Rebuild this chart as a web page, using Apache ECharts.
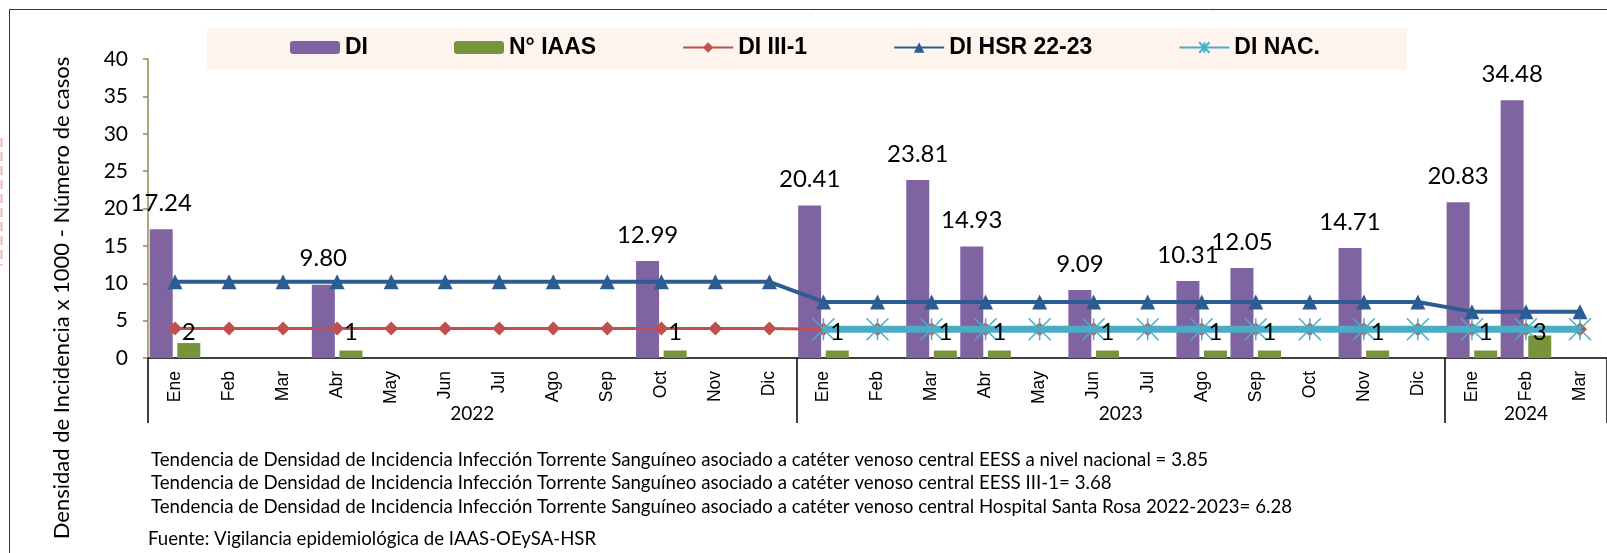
<!DOCTYPE html>
<html>
<head>
<meta charset="utf-8">
<title>Densidad de Incidencia ITS CVC</title>
<style>
  html, body { margin: 0; padding: 0; background: #fff; }
  #chart { width: 1607px; height: 553px; }
</style>
</head>
<body>
<!-- contenedor del grafico -->
<div id="chart"></div>
<script src="https://cdn.jsdelivr.net/npm/echarts@6/dist/echarts.min.js"></script>
<script type="text/javascript">
    // meses (eje x) y años
    var months = ['Ene', 'Feb', 'Mar', 'Abr', 'May', 'Jun', 'Jul', 'Ago', 'Sep', 'Oct', 'Nov', 'Dic',
                  'Ene', 'Feb', 'Mar', 'Abr', 'May', 'Jun', 'Jul', 'Ago', 'Sep', 'Oct', 'Nov', 'Dic',
                  'Ene', 'Feb', 'Mar'];
    var years = ['2022', '2023', '2024'];
    var monthsPerYear = [12, 12, 3];

    // densidad de incidencia (barras moradas)
    var di = [17.24, null, null, 9.80, null, null, null, null, null, 12.99, null, null,
              20.41, null, 23.81, 14.93, null, 9.09, null, 10.31, 12.05, null, 14.71, null,
              20.83, 34.48, null];
    // numero de IAAS (barras verdes)
    var iaas = [2, null, null, 1, null, null, null, null, null, 1, null, null,
                1, null, 1, 1, null, 1, null, 1, 1, null, 1, null,
                1, 3, null];
    // DI III-1 (linea roja)
    var diIII = [3.95, 3.95, 3.95, 3.95, 3.95, 3.95, 3.95, 3.95, 3.95, 3.95, 3.95, 3.95,
                 3.85, 3.85, 3.85, 3.85, 3.85, 3.85, 3.85, 3.85, 3.85, 3.85, 3.85, 3.85,
                 3.85, 3.85, 3.85];
    // DI HSR 22-23 (linea azul)
    var diHsr = [10.2, 10.2, 10.2, 10.2, 10.2, 10.2, 10.2, 10.2, 10.2, 10.2, 10.2, 10.2,
                 7.5, 7.5, 7.5, 7.5, 7.5, 7.5, 7.5, 7.5, 7.5, 7.5, 7.5, 7.5,
                 6.2, 6.2, 6.2];
    // DI nacional (linea celeste)
    var diNac = [null, null, null, null, null, null, null, null, null, null, null, null,
                 3.85, 3.85, 3.85, 3.85, 3.85, 3.85, 3.85, 3.85, 3.85, 3.85, 3.85, 3.85,
                 3.85, 3.85, 3.85];

    var notas = [
        'Tendencia de Densidad de Incidencia Infección Torrente Sanguíneo asociado a catéter venoso central EESS a nivel nacional = 3.85',
        'Tendencia de Densidad de Incidencia Infección Torrente Sanguíneo asociado a catéter venoso central EESS III-1= 3.68',
        'Tendencia de Densidad de Incidencia Infección Torrente Sanguíneo asociado a catéter venoso central Hospital Santa Rosa 2022-2023= 6.28'
    ];
    var fuente = 'Fuente: Vigilancia epidemiológica de IAAS-OEySA-HSR';

    // limites y centros de cada año sobre el eje de valores 0..27
    var yearBounds = [0], yearCenters = [], acc = 0;
    for (var i = 0; i < monthsPerYear.length; i++) {
        yearCenters.push(acc + monthsPerYear[i] / 2);
        acc += monthsPerYear[i];
        yearBounds.push(acc);
    }

    var calibri = 'Lato, "Open Sans", sans-serif';
    var arial = '"Liberation Sans", Arial, sans-serif';

    var chart = echarts.init(document.getElementById('chart'));

    var option = {
        animation: false,
        backgroundColor: '#fff',
        textStyle: { fontFamily: calibri },
        legend: {
            left: 290,
            top: 36,
            padding: 0,
            itemGap: 86,
            itemWidth: 50,
            itemHeight: 13,
            textStyle: { fontFamily: arial, fontWeight: 'bold', fontSize: 23, color: '#000' },
            data: ['DI', 'N° IAAS', 'DI III-1', 'DI HSR 22-23', 'DI NAC.']
        },
        grid: { left: 148, right: -12, top: 59, bottom: 195, containLabel: false },
        xAxis: [{
            type: 'category',
            data: months,
            axisLine: { lineStyle: { color: '#000', width: 1.5 } },
            axisTick: { show: false },
            axisLabel: { rotate: 90, interval: 0, margin: 13, fontFamily: arial, fontSize: 17.5, color: '#000' }
        }, {
            // eje auxiliar para los años y separadores
            type: 'value',
            position: 'bottom',
            min: 0,
            max: acc,
            splitLine: { show: false },
            axisLine: { show: false },
            axisTick: { show: true, length: 65, customValues: yearBounds, lineStyle: { color: '#000', width: 1.5 } },
            axisLabel: {
                customValues: yearCenters,
                margin: 46,
                fontFamily: calibri,
                fontSize: 19,
                color: '#000',
                formatter: function (v) {
                    return years[yearCenters.indexOf(v)] || '';
                }
            }
        }],
        yAxis: {
            type: 'value',
            min: 0,
            max: 40,
            interval: 5,
            splitLine: { show: false },
            axisLine: { show: true, lineStyle: { color: '#938953', width: 1.5 } },
            axisTick: { show: true, length: 5, lineStyle: { color: '#938953', width: 1.5 } },
            axisLabel: { margin: 20, fontFamily: calibri, fontSize: 21, color: '#000' }
        },
        graphic: [
            { type: 'rect', silent: true, z: -10, shape: { x: 9.5, y: 9.5, width: 1700, height: 700 },
              style: { fill: 'none', stroke: '#333', lineWidth: 1 } },
            { type: 'rect', silent: true, z: -9, shape: { x: 207, y: 28, width: 1200, height: 42 },
              style: { fill: '#FDF4EE' } },
            { type: 'line', silent: true, shape: { x1: 1.5, y1: 138, x2: 1.5, y2: 266 },
              style: { stroke: '#F6B3B3', lineWidth: 2, lineDash: [9, 5] } },
            { type: 'text', x: 62, y: 298, rotation: Math.PI / 2,
              style: { text: 'Densidad de Incidencia x 1000 - Número de casos', fontFamily: calibri, fontSize: 22,
                       fill: '#000', align: 'center', verticalAlign: 'middle' } },
            { type: 'text', x: 151, y: 460, style: { text: notas[0], fontFamily: calibri, fontSize: 18.7, fill: '#000', verticalAlign: 'middle' } },
            { type: 'text', x: 151, y: 483, style: { text: notas[1], fontFamily: calibri, fontSize: 18.7, fill: '#000', verticalAlign: 'middle' } },
            { type: 'text', x: 151, y: 507, style: { text: notas[2], fontFamily: calibri, fontSize: 18.7, fill: '#000', verticalAlign: 'middle' } },
            { type: 'text', x: 148, y: 539, style: { text: fuente, fontFamily: calibri, fontSize: 18.6, fill: '#000', verticalAlign: 'middle' } }
        ],
        series: [{
            name: 'DI',
            type: 'bar',
            z: 2,
            barWidth: 23,
            barGap: '20%',
            itemStyle: { color: '#8064A2' },
            label: {
                show: true,
                position: 'top',
                distance: 14,
                fontFamily: calibri,
                fontSize: 24,
                color: '#000',
                formatter: function (p) { return p.value.toFixed(2); }
            },
            data: di
        }, {
            name: 'N° IAAS',
            type: 'bar',
            z: 5,
            barWidth: 23,
            itemStyle: { color: '#77933C' },
            label: {
                show: true,
                position: 'insideBottom',
                distance: 14,
                fontFamily: calibri,
                fontSize: 24,
                color: '#000'
            },
            data: iaas
        }, {
            name: 'DI III-1',
            type: 'line',
            z: 3,
            symbol: 'diamond',
            symbolSize: 14,
            showAllSymbol: true,
            itemStyle: { color: '#C0504D' },
            lineStyle: { color: '#C0504D', width: 3 },
            data: diIII
        }, {
            name: 'DI HSR 22-23',
            type: 'line',
            z: 3,
            symbol: 'triangle',
            symbolSize: 15,
            showAllSymbol: true,
            itemStyle: { color: '#2C5D92' },
            lineStyle: { color: '#2C5D92', width: 4 },
            data: diHsr
        }, {
            name: 'DI NAC.',
            type: 'line',
            z: 4,
            symbol: 'path://M0,0L20,20M20,0L0,20M10,0L10,20',
            symbolSize: 22,
            showAllSymbol: true,
            itemStyle: { color: '#4BACC6', borderColor: '#4BACC6', borderWidth: 1.5 },
            lineStyle: { color: '#4BACC6', width: 7 },
            data: diNac
        }]
    };

    chart.setOption(option);
</script>
</body>
</html>
